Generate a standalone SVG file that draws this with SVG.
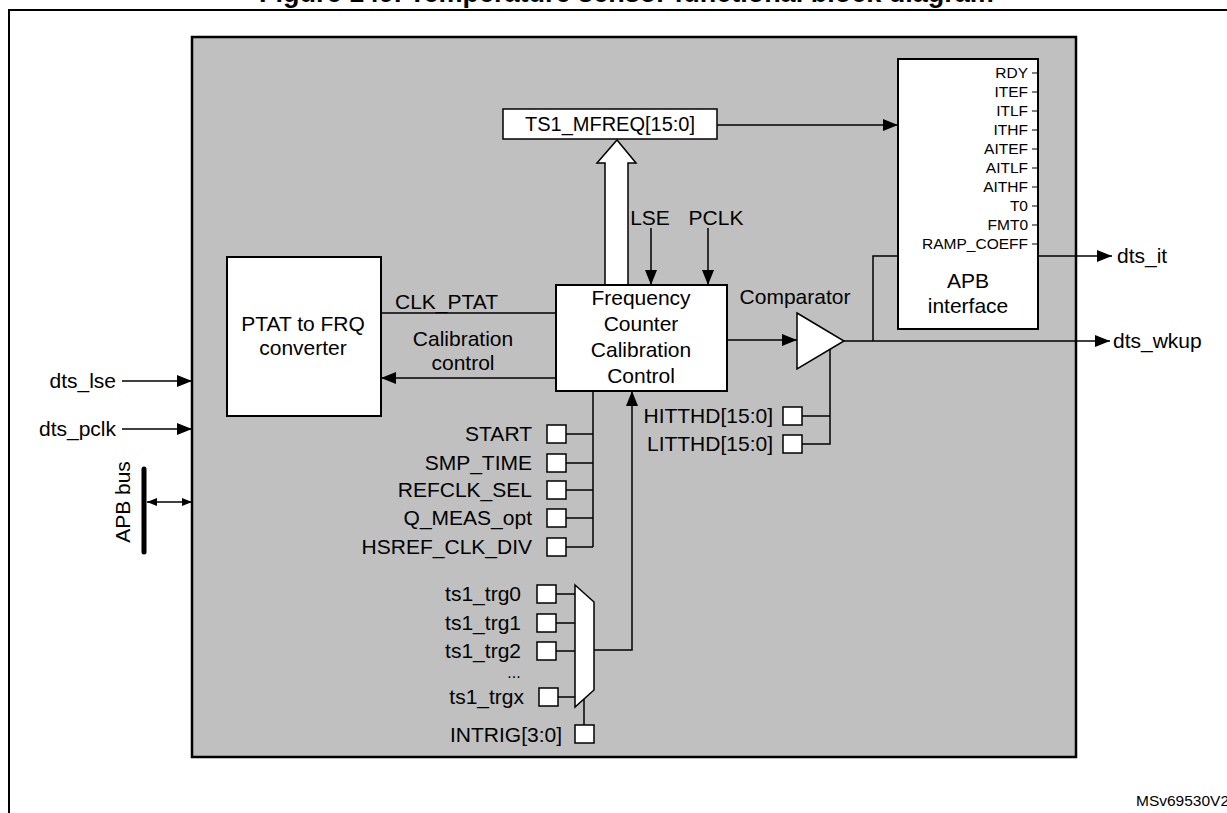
<svg xmlns="http://www.w3.org/2000/svg" width="1227" height="813" viewBox="0 0 1227 813">
<defs>
<style>
text{font-family:"Liberation Sans",Arial,sans-serif;font-size:21px;fill:#000}
.sm{font-size:15.5px}
.c{text-anchor:middle}
.r{text-anchor:end}
.box{fill:#fff;stroke:#000;stroke-width:2}
.reg{fill:#fff;stroke:#000;stroke-width:1.5}
.ln{stroke:#000;stroke-width:1.5;fill:none}
.arr{marker-end:url(#ah)}
</style>
<marker id="ah" viewBox="0 0 15 12" refX="15" refY="6" markerWidth="15" markerHeight="12" markerUnits="userSpaceOnUse" orient="auto">
<path d="M0,0 L15,6 L0,12 z" fill="#000"/>
</marker>
<marker id="sa" viewBox="0 0 10 8" refX="10" refY="4" markerWidth="10" markerHeight="8" markerUnits="userSpaceOnUse" orient="auto-start-reverse">
<path d="M0,0 L10,4 L0,8 z" fill="#000"/>
</marker>
</defs>
<rect width="1227" height="813" fill="#fff"/>
<text x="259" y="1.5" style="font-weight:bold;font-size:27px">Figure 149. Temperature sensor functional block diagram</text>
<rect x="9" y="10" width="1240" height="820" fill="none" stroke="#000" stroke-width="2"/>
<g id="dts">
<rect x="192" y="37" width="884" height="720" fill="#c0c0c0" stroke="#000" stroke-width="2.5"/>
</g>
<g id="connectors">
<line class="ln arr" x1="122" y1="381" x2="192" y2="381"/>
<line class="ln arr" x1="122" y1="429" x2="192" y2="429"/>
<line x1="144" y1="469" x2="144" y2="552" stroke="#000" stroke-width="5" stroke-linecap="round"/>
<line class="ln" x1="147" y1="502" x2="192" y2="502" marker-start="url(#sa)" marker-end="url(#sa)"/>
<line class="ln" x1="381" y1="313" x2="556" y2="313"/>
<line class="ln arr" x1="556" y1="378" x2="381" y2="378"/>
<line class="ln arr" x1="651" y1="228" x2="651" y2="285"/>
<line class="ln arr" x1="708" y1="228" x2="708" y2="285"/>
<line class="ln arr" x1="717" y1="125" x2="898" y2="125"/>
<polygon points="605,285 605,163 597,163 617,140 636,163 628,163 628,285" fill="#fff" stroke="#000" stroke-width="1.5"/>
<line class="ln arr" x1="727" y1="340" x2="797" y2="340"/>
<line class="ln arr" x1="844" y1="341" x2="1110" y2="341"/>
<polyline class="ln" points="873,341 873,256 898,256"/>
<line class="ln arr" x1="1038" y1="256" x2="1112" y2="256"/>
<polyline class="ln" points="830,349 830,444 802,444"/>
<line class="ln" x1="802" y1="416" x2="830" y2="416"/>
<line class="ln" x1="593" y1="391" x2="593" y2="547"/>
<line class="ln" x1="566" y1="434" x2="593" y2="434"/>
<line class="ln" x1="566" y1="463" x2="593" y2="463"/>
<line class="ln" x1="566" y1="490" x2="593" y2="490"/>
<line class="ln" x1="566" y1="518" x2="593" y2="518"/>
<line class="ln" x1="566" y1="547" x2="593" y2="547"/>
<polyline class="ln arr" points="594,650 632,650 632,391"/>
<line class="ln" x1="556" y1="594" x2="575" y2="594"/>
<line class="ln" x1="556" y1="623" x2="575" y2="623"/>
<line class="ln" x1="556" y1="651" x2="575" y2="651"/>
<line class="ln" x1="558" y1="697" x2="575" y2="697"/>
<line class="ln" x1="584" y1="699" x2="584" y2="725"/>
</g>
<g id="labels">
<text class="r" x="116" y="388">dts_lse</text>
<text class="r" x="116" y="436">dts_pclk</text>
<text class="c" transform="translate(130,502) rotate(-90)">APB bus</text>
<text x="395" y="309">CLK_PTAT</text>
<text class="c" x="463" y="346">Calibration</text>
<text class="c" x="463" y="370">control</text>
<text class="c" x="650" y="225">LSE</text>
<text class="c" x="716" y="225">PCLK</text>
<text class="c" x="795" y="304">Comparator</text>
<text x="1117" y="263">dts_it</text>
<text x="1113" y="348">dts_wkup</text>
<text class="sm" x="1136" y="806">MSv69530V2</text>
</g>
<g id="ptat">
<rect class="box" x="227" y="257" width="154" height="159"/>
<text class="c" x="303" y="331">PTAT to FRQ</text>
<text class="c" x="303" y="355">converter</text>
</g>
<g id="fcc">
<rect class="box" x="556" y="285" width="171" height="106"/>
<text class="c" x="641" y="305">Frequency</text>
<text class="c" x="641" y="331">Counter</text>
<text class="c" x="641" y="357">Calibration</text>
<text class="c" x="641" y="383">Control</text>
</g>
<g id="ts1_mfreq">
<rect class="reg" x="503" y="109" width="214" height="30"/>
<text class="c" x="610" y="131" style="font-size:20px">TS1_MFREQ[15:0]</text>
</g>
<g id="apb">
<rect class="box" x="898" y="59" width="140" height="270"/>
<g class="sm">
<text class="r sm" x="1028" y="78">RDY</text>
<text class="r sm" x="1028" y="97">ITEF</text>
<text class="r sm" x="1028" y="116">ITLF</text>
<text class="r sm" x="1028" y="135">ITHF</text>
<text class="r sm" x="1028" y="154">AITEF</text>
<text class="r sm" x="1028" y="173">AITLF</text>
<text class="r sm" x="1028" y="192">AITHF</text>
<text class="r sm" x="1028" y="211">T0</text>
<text class="r sm" x="1028" y="230">FMT0</text>
<text class="r sm" x="1028" y="249">RAMP_COEFF</text>
</g>
<path d="M1032,73H1038M1032,92H1038M1032,111H1038M1032,130H1038M1032,149H1038M1032,168H1038M1032,187H1038M1032,206H1038M1032,225H1038M1032,244H1038" stroke="#000" stroke-width="1"/>
<text class="c" x="968" y="288">APB</text>
<text class="c" x="968" y="313">interface</text>
</g>
<g id="comparator">
<polygon points="797,313 844,341 797,369" fill="#fff" stroke="#000" stroke-width="1.5"/>
</g>
<g id="thresholds">
<rect class="reg" x="783" y="407" width="19" height="18"/>
<text class="r" x="773" y="423">HITTHD[15:0]</text>
<rect class="reg" x="783" y="435" width="19" height="18"/>
<text class="r" x="773" y="451">LITTHD[15:0]</text>
</g>
<g id="config">
<rect class="reg" x="547" y="425" width="19" height="18"/>
<text class="r" x="532" y="441">START</text>
<rect class="reg" x="547" y="454" width="19" height="18"/>
<text class="r" x="532" y="470">SMP_TIME</text>
<rect class="reg" x="547" y="481" width="19" height="18"/>
<text class="r" x="532" y="497">REFCLK_SEL</text>
<rect class="reg" x="547" y="509" width="19" height="18"/>
<text class="r" x="532" y="525">Q_MEAS_opt</text>
<rect class="reg" x="547" y="538" width="19" height="18"/>
<text class="r" x="532" y="554">HSREF_CLK_DIV</text>
</g>
<g id="mux">
<polygon points="575,585 594,602 594,690 575,707" fill="#fff" stroke="#000" stroke-width="1.5"/>
<rect class="reg" x="537" y="585" width="19" height="18"/>
<text class="r" x="521" y="601">ts1_trg0</text>
<rect class="reg" x="537" y="614" width="19" height="18"/>
<text class="r" x="521" y="630">ts1_trg1</text>
<rect class="reg" x="537" y="642" width="19" height="18"/>
<text class="r" x="521" y="658">ts1_trg2</text>
<text class="c" x="514" y="678" style="font-size:16px">...</text>
<rect class="reg" x="539" y="688" width="19" height="18"/>
<text class="r" x="524" y="704">ts1_trgx</text>
<rect class="reg" x="575" y="725" width="19" height="18"/>
<text class="r" x="562" y="742">INTRIG[3:0]</text>
</g>
</svg>
